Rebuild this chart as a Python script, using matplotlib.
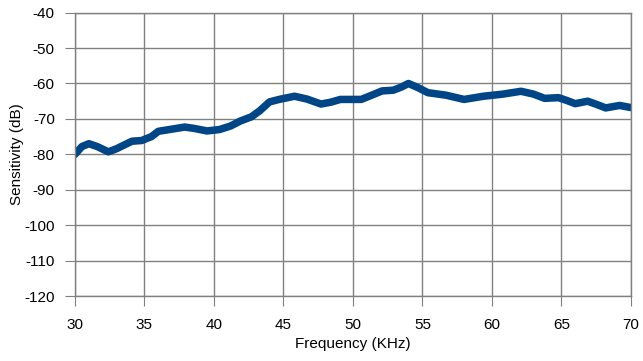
import numpy as np
import matplotlib.pyplot as plt

plt.rcParams['font.family'] = ['Liberation Sans', 'DejaVu Sans']
plt.rcParams['axes.unicode_minus'] = False

# frequency (KHz) and sensitivity (dB)
freq = [30.0, 30.5, 31.0, 31.6, 32.4, 33.0, 34.1, 34.8, 35.5, 36.0, 36.8, 37.9,
        38.6, 39.5, 40.4, 41.2, 41.9, 42.7, 43.3, 44.0, 44.7, 45.8, 46.7, 47.7,
        48.4, 49.1, 50.3, 50.6, 51.3, 52.1, 52.9, 53.5, 54.0, 54.7, 55.4, 56.7,
        58.0, 59.4, 60.8, 62.1, 63.0, 63.8, 64.8, 65.4, 66.0, 66.9, 67.6, 68.2,
        69.2, 70.0]
sens = [-80.0, -77.8, -77.0, -77.8, -79.3, -78.4, -76.3, -76.1, -75.0, -73.5, -73.0, -72.3,
        -72.7, -73.4, -73.0, -72.0, -70.6, -69.4, -67.7, -65.2, -64.5, -63.6, -64.4, -65.8,
        -65.3, -64.5, -64.5, -64.5, -63.4, -62.1, -61.9, -61.0, -60.0, -61.2, -62.6, -63.3,
        -64.5, -63.6, -63.0, -62.2, -63.0, -64.2, -64.0, -64.8, -65.7, -65.0, -66.0, -66.9,
        -66.2, -66.8]

fig = plt.figure(figsize=(6.43, 3.61), dpi=100)
ax = fig.add_axes([0.1166, 0.18, 0.8644, 0.785])

ax.plot(freq, sens, color='#004586', linewidth=5.4, solid_capstyle='round',
        solid_joinstyle='round')

ax.set_xlim(30, 70)
ax.set_ylim(-120, -40)
ax.set_xticks(np.arange(30, 71, 5))
ax.set_yticks(np.arange(-120, -39, 10))
ax.grid(True, color='#808080', linewidth=1)
ax.set_axisbelow(True)
for s in ax.spines.values():
    s.set_color('#808080')
    s.set_linewidth(1)
ax.tick_params(direction='out', length=7.5, color='#808080', labelsize=11,
               labelcolor='black')
ax.tick_params(axis='x', pad=8)
ax.tick_params(axis='y', pad=7)
ax.set_xlabel('Frequency (KHz)', fontsize=11, labelpad=4)
ax.set_ylabel('Sensitivity (dB)', fontsize=11, labelpad=0)

fig.savefig('out.png', dpi=100)
